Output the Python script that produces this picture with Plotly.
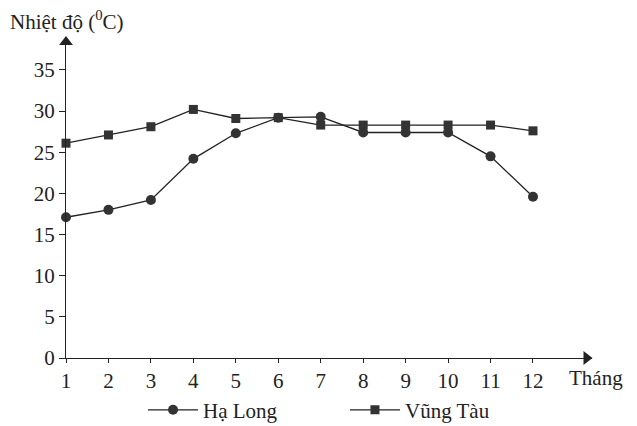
import plotly.graph_objects as go

months = list(range(1, 13))
month_labels = [str(m) for m in months]
ha_long = [17.1, 18.0, 19.2, 24.2, 27.3, 29.2, 29.3, 27.4, 27.4, 27.4, 24.5, 19.6]
vung_tau = [26.1, 27.1, 28.1, 30.2, 29.1, 29.2, 28.3, 28.3, 28.3, 28.3, 28.3, 27.6]
y_ticks = [0, 5, 10, 15, 20, 25, 30, 35]

FONT = "Liberation Serif"
INK = "#222222"
XMAX = 13.39
YMAX = 39.0

ML, MR, MT, MB = 58, 53, 29, 76
W, H = 637, 426
PW, PH = W - ML - MR, H - MT - MB


def px_to_paper(fx, fy):
    return (fx - ML) / PW, (H - MB - fy) / PH


fig = go.Figure()
fig.add_trace(go.Scatter(
    x=months, y=ha_long, name="Hạ Long", mode="lines+markers",
    line=dict(color=INK, width=1.3),
    marker=dict(symbol="circle", size=10, color="#333333"),
    legend="legend", cliponaxis=False))
fig.add_trace(go.Scatter(
    x=months, y=vung_tau, name="Vũng Tàu", mode="lines+markers",
    line=dict(color=INK, width=1.3),
    marker=dict(symbol="square", size=9, color="#333333"),
    legend="legend2", cliponaxis=False))
# axis arrowheads
fig.add_trace(go.Scatter(
    x=[XMAX - 0.13, 1], y=[0, YMAX - 0.6], mode="markers", showlegend=False, hoverinfo="skip",
    marker=dict(symbol=["triangle-right", "triangle-up"], size=12, color=INK),
    cliponaxis=False))

leg_common = dict(orientation="h", xref="container", yref="container",
                  xanchor="left", yanchor="middle", y=0.056, itemwidth=50,
                  font=dict(family=FONT, size=21, color="#222"),
                  bgcolor="rgba(0,0,0,0)")

fig.update_layout(
    width=W, height=H,
    margin=dict(l=ML, r=MR, t=MT, b=MB, autoexpand=False),
    paper_bgcolor="white", plot_bgcolor="white",
    font=dict(family=FONT, size=21, color="#222"),
    showlegend=True,
    legend=dict(x=0.212, **leg_common),
    legend2=dict(x=0.529, **leg_common),
    xaxis=dict(range=[1, XMAX], tickvals=months, ticktext=month_labels,
               showgrid=False, zeroline=False, showline=True, linecolor=INK, linewidth=1.3,
               ticks="outside", ticklen=4, tickcolor=INK, tickfont=dict(size=21)),
    yaxis=dict(range=[0, YMAX], tickvals=y_ticks, showgrid=False, zeroline=False,
               showline=True, linecolor=INK, linewidth=1.3,
               ticks="outside", ticklen=6, tickcolor=INK, tickfont=dict(size=21)),
)
tx, ty = px_to_paper(0, 12)
fig.add_annotation(text="Nhiệt độ (<sup>0</sup>C)", xref="paper", yref="paper",
                   x=tx, y=ty, xanchor="left", yanchor="middle", showarrow=False,
                   font=dict(family=FONT, size=21))
mx, my = px_to_paper(617, 370)
fig.add_annotation(text="Tháng", xref="paper", yref="paper",
                   x=mx, y=my, xanchor="right", yanchor="middle",
                   showarrow=False, font=dict(family=FONT, size=21))

fig.write_html("out.html")
